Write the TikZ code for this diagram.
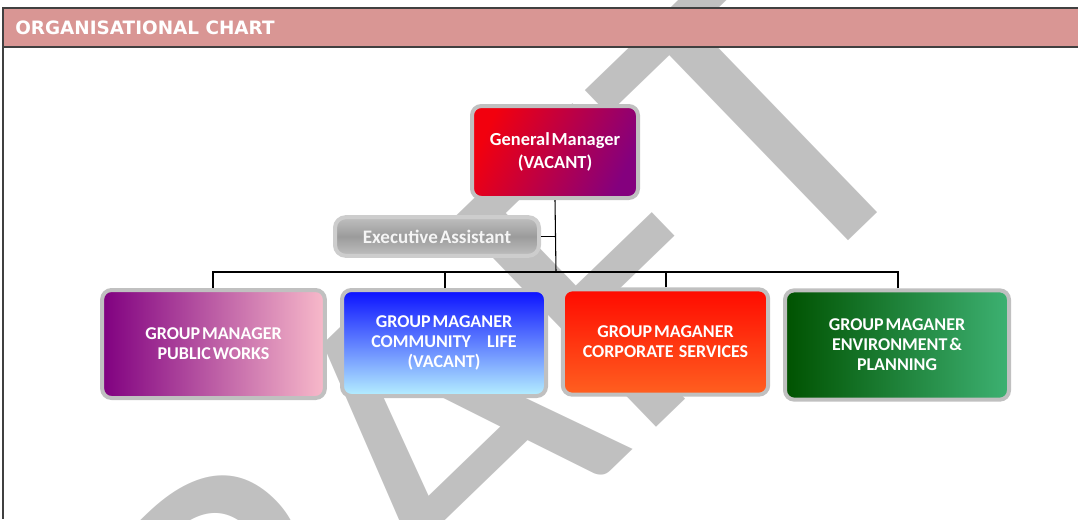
\documentclass[tikz,border=0pt]{standalone}
\usepackage{fontspec}
\setmainfont{Carlito}[WordSpace=0.45]
\newfontfamily\hdrfont{DejaVu Sans}
\newfontfamily\wmfont{Carlito}
\usepackage{tikz}
\definecolor{hdrpink}{HTML}{D99694}
\definecolor{framegray}{HTML}{404040}
\definecolor{boxgray}{HTML}{C0C0C0}
\definecolor{wmgray}{HTML}{C0C0C0}
\definecolor{gmred}{HTML}{F2000E}
\definecolor{gmpurple}{HTML}{84007E}
\definecolor{pwpurple}{HTML}{800080}
\definecolor{pwpink}{HTML}{F8BACA}
\definecolor{clblue}{HTML}{0A10FF}
\definecolor{clcyan}{HTML}{B6F0FF}
\definecolor{csred}{HTML}{FF0A00}
\definecolor{csorange}{HTML}{FF6020}
\definecolor{epdark}{HTML}{005200}
\definecolor{eplight}{HTML}{3DB172}
\tikzset{
  boxframe/.style = {draw=boxgray,line width=3pt,rounded corners=7pt,inner sep=0pt,
                     align=center,text=white,font=\bfseries\fontsize{13.5}{15}\selectfont},
  unitbox/.style  = {boxframe,minimum height=80pt},
  assistbox/.style= {draw=boxgray!80,line width=3pt,rounded corners=8pt,inner sep=0pt,
                     top color=gray!50,bottom color=gray!50,middle color=gray!78,
                     text=white!96!black,font=\bfseries\fontsize{14.3}{15}\selectfont,
                     minimum width=153pt,minimum height=29pt},
  conn/.style     = {black,line width=0.8pt},
  wmark/.style    = {text=wmgray,inner sep=0pt,font=\wmfont\fontsize{340}{340}\selectfont}
}

\begin{document}
\begin{tikzpicture}[x=0.75pt,y=-0.75pt]
  \useasboundingbox (0,0) rectangle (1078,519);
  \clip (0,0) rectangle (1078,519);
  % watermark
  \node[wmark,rotate=44,anchor=base east] (draft) at (943,150) {DRAFT};

  % header band
  \fill[hdrpink] (3,8) rectangle (1078,47);
  \draw[framegray,line width=1.1pt] (1078,8) -- (3,8) -- (3,519);
  \draw[framegray,line width=1.1pt] (3,47) -- (1078,47);
  \node[anchor=west,text=white,inner sep=0pt,font=\hdrfont\bfseries\fontsize{13.8}{13.8}\selectfont]
       (title) at (15,28) {ORGANISATIONAL CHART};

  % boxes
  \node[boxframe,top color=gmred,bottom color=gmpurple,shading angle=65,
        minimum width=124.5pt,minimum height=69pt,font=\bfseries\fontsize{13.8}{17.5}\selectfont]
       (gm) at (555,152) {General Manager\\(VACANT)};
  \node[assistbox] (ea) at (437,236.5) {Executive Assistant};
  \node[unitbox,left color=pwpurple,right color=pwpink,minimum width=167pt,minimum height=81pt]
       (pw) at (213.5,344) {GROUP MANAGER\\PUBLIC WORKS};
  \node[unitbox,top color=clblue,bottom color=clcyan,minimum width=153pt,minimum height=79.5pt]
       (cl) at (444,343) {GROUP MAGANER\\COMMUNITY\hspace{0.9em}LIFE\\(VACANT)};
  \node[unitbox,top color=csred,bottom color=csorange,minimum width=154pt,minimum height=79pt]
       (cs) at (665.5,342) {GROUP MAGANER\\CORPORATE\hspace{0.3em}SERVICES};
  \node[unitbox,left color=epdark,right color=eplight,minimum width=168pt,minimum height=82pt]
       (ep) at (897,345) {GROUP MAGANER\\ENVIRONMENT \&\\PLANNING};

  % connectors
  \coordinate (bus) at (556,272);
  \draw[conn] (gm.south) -- (bus);
  \draw[conn] (ea.east) -- (ea.east -| gm.south);
  \foreach \b/\x in {pw/213,cl/445,cs/666,ep/898}
    \draw[conn] (\x,0 |- \b.north) |- (bus);
\end{tikzpicture}
\end{document}
